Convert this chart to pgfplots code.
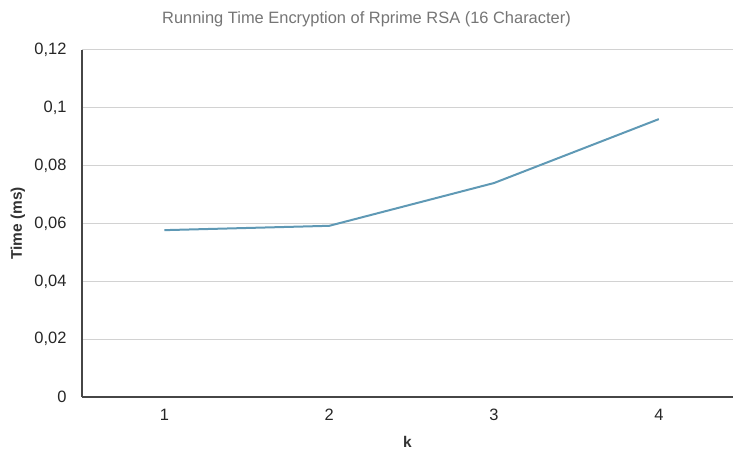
\documentclass[border=0pt]{standalone}
\usepackage{pgfplots}
\pgfplotsset{compat=1.18}
\usepackage{fontspec}
\setmainfont{Liberation Sans}
\definecolor{linec}{RGB}{95,153,181}
\definecolor{gridc}{RGB}{210,210,210}
\definecolor{axc}{RGB}{70,70,70}
\definecolor{titc}{RGB}{117,117,117}
\begin{document}
\begin{tikzpicture}[x=1bp,y=1bp]
\begin{axis}[
  scale only axis,
  width=651bp, height=347bp,
  xmin=0.5, xmax=4.45,
  ymin=0, ymax=0.12,
  xtick={1,2,3,4},
  ytick={0,0.02,0.04,0.06,0.08,0.1,0.12},
  yticklabels={0,{0,02},{0,04},{0,06},{0,08},{0,1},{0,12}},
  xticklabels={1,2,3,4},
  ymajorgrids,
  major grid style={gridc, line width=1bp},
  axis x line*=bottom,
  axis y line*=left,
  axis line style={axc, line width=1.2bp},
  x axis line style={-},
  y axis line style={-},
  major tick length=0pt,
  tick style={draw=none},
  ticklabel style={font=\fontsize{16.5}{18}\selectfont, text=black!85},
  yticklabel style={anchor=east, xshift=-12bp},
  xticklabel style={anchor=center, yshift=-18bp},
  xlabel={k},
  ylabel={Time (ms)},
  label style={font=\bfseries\fontsize{15.5}{17}\selectfont, text=black!80},
  xlabel style={at={(axis description cs:0.5,0)}, anchor=center, yshift=-45bp},
  ylabel style={at={(axis description cs:0,0.5)}, anchor=center, rotate=0, yshift=64bp},
  title={Running Time Encryption of Rprime RSA (16 Character)},
  title style={font=\fontsize{16.5}{18}\selectfont, text=titc, at={(axis description cs:0.437,1)}, anchor=center, yshift=25bp},
]
\addplot[linec, line width=2bp] coordinates {(1,0.0577) (2,0.0592) (3,0.0740) (4,0.0961)};
\end{axis}
\pgfresetboundingbox
\path (current axis.south west) ++(-82bp,-55bp) coordinate (bl);
\path (current axis.north east) ++(0bp,50bp) coordinate (tr);
\path[use as bounding box] (bl) rectangle (tr);
\end{tikzpicture}
\end{document}
